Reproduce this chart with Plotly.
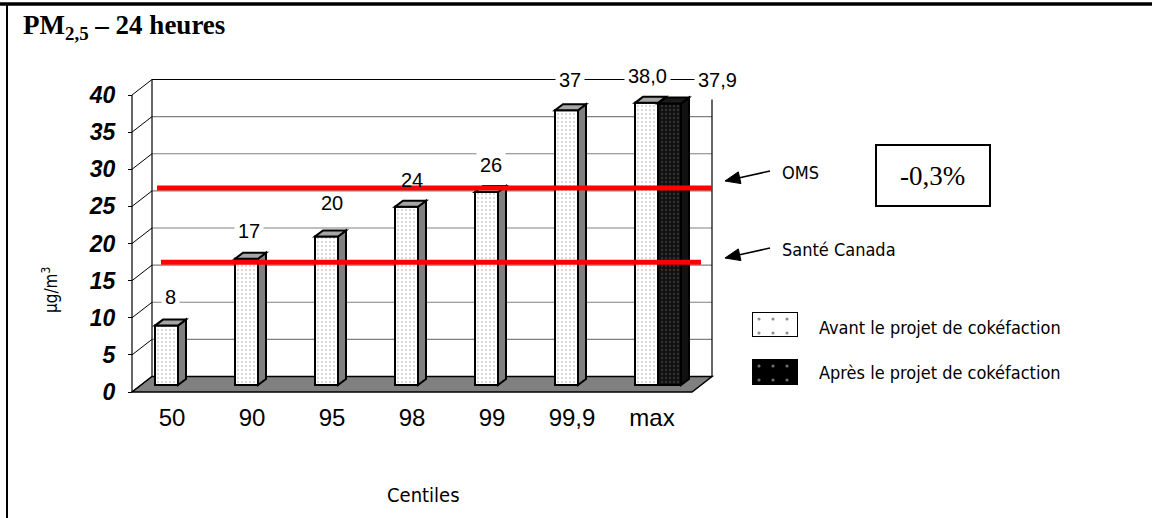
import plotly.graph_objects as go

# ---------------- data ----------------
categories = ["50", "90", "95", "98", "99", "99,9", "max"]
avant = [8, 17, 20, 24, 26, 37, 38.0]
apres = [None, None, None, None, None, None, 37.9]
avant_labels = ["8", "17", "20", "24", "26", "37", "38,0"]
apres_labels = ["", "", "", "", "", "", "37,9"]
threshold_names = ["OMS", "Santé Canada"]
threshold_values = [25, 15]
y_ticks = [0, 5, 10, 15, 20, 25, 30, 35, 40]
variation_text = "-0,3%"
legend_names = ["Avant le projet de cokéfaction", "Après le projet de cokéfaction"]

# ---------------- geometry / style ----------------
W, H = 1152, 518
X0PX, CATPX = 132.0, 80.0          # pixel of category -0.5, pixels per category
Y0PX, UNITPX = 392.0, 297.0 / 40   # pixel of value 0 (front), pixels per unit
XR = [-0.5 - X0PX / CATPX, -0.5 + (W - X0PX) / CATPX]
YR = [-(H - Y0PX) / UNITPX, Y0PX / UNITPX]
DX, DY = 20 / CATPX, 15.5 / UNITPX           # depth of the 3-D box
BAR_BASE = 7 / UNITPX
BAR_OFF, BAR_W = -17 / CATPX, 23 / CATPX
SDX, SDY = 8 / CATPX, 6 / UNITPX              # bar depth
RED_LIFT = DY + 0.4
RED_SPAN = [(-0.1875, 6.75), (-0.1375, 6.6125)]
RIGHT_EDGE_TOP = 37.3
ARROWS = [((770, 171), (725, 181)), ((770, 248), (725, 258))]   # (tail, head) in px
# label positions (relative x offset from category, y in value units) and white background flag
LABEL_POS = [(-0.025, 12.8), (-0.035, 21.7), (0.0, 25.5), (0.0, 28.6), (-0.01, 30.6),
             (-0.025, 42.0), (-0.0625, 42.6)]
LABEL_BG = [True, True, False, False, True, True, True]
LABEL2_POS = [None] * 6 + [(0.8125, 42.0)]

SANS = "Liberation Sans, Arial, sans-serif"
COND = "Liberation Sans Narrow, DejaVu Sans Condensed, Roboto Condensed, Arial Narrow, Lato, sans-serif"
SERIF = "Liberation Serif, Times New Roman, serif"


def px(xp):
    return xp / W


def py(yp):
    return 1 - yp / H


def poly(points):
    return "M " + " L ".join(f"{a:.4f},{b:.4f}" for a, b in points) + " Z"


fig = go.Figure()

fig.add_trace(go.Bar(
    x=list(range(len(categories))), y=avant, base=BAR_BASE, width=BAR_W, offset=BAR_OFF,
    name=legend_names[0], showlegend=False,
    marker=dict(color="white", line=dict(color="black", width=2),
                pattern=dict(shape=".", size=4, solidity=0.22, fgcolor="#a0a0a0", bgcolor="white")),
    hoverinfo="skip"))
fig.add_trace(go.Bar(
    x=list(range(len(categories))), y=apres, base=BAR_BASE, width=BAR_W, offset=BAR_OFF + BAR_W,
    name=legend_names[1], showlegend=False,
    marker=dict(color="black", line=dict(color="black", width=2),
                pattern=dict(shape=".", size=4, solidity=0.25, fgcolor="#555", bgcolor="#111")),
    hoverinfo="skip"))

shapes = []
xl, xr = -0.5, len(categories) - 0.5
# floor
shapes.append(dict(type="path", xref="x", yref="y", layer="below",
                   path=poly([(xl, 0), (xr, 0), (xr + DX, DY), (xl + DX, DY)]),
                   fillcolor="#808080", line=dict(color="black", width=1.5)))
# back wall gridlines
for v in y_ticks[1:]:
    shapes.append(dict(type="line", xref="x", yref="y", layer="below",
                       x0=xl + DX, x1=xr + DX, y0=v + DY, y1=v + DY,
                       line=dict(color="black" if v == y_ticks[-1] else "#808080", width=1.2)))
# side wall diagonals
for v in y_ticks:
    shapes.append(dict(type="line", xref="x", yref="y", layer="below",
                       x0=xl, x1=xl + DX, y0=v, y1=v + DY, line=dict(color="black", width=1)))
# wall vertical edges
for xx, y0, top in [(xl, 0, y_ticks[-1]), (xl + DX, DY, y_ticks[-1] + DY), (xr + DX, DY, RIGHT_EDGE_TOP + DY)]:
    shapes.append(dict(type="line", xref="x", yref="y", layer="below",
                       x0=xx, x1=xx, y0=y0, y1=top, line=dict(color="black", width=1.2)))


def bar_faces(i, v, off, side_col, top_col, side=True):
    x0 = i + off
    x1 = x0 + BAR_W
    t = BAR_BASE + v
    out = []
    if side:
        out.append(dict(type="path", xref="x", yref="y", layer="above",
                        path=poly([(x1, BAR_BASE), (x1, t), (x1 + SDX, t + SDY), (x1 + SDX, BAR_BASE + SDY)]),
                        fillcolor=side_col, line=dict(color="black", width=2)))
    out.append(dict(type="path", xref="x", yref="y", layer="above",
                    path=poly([(x0, t), (x1, t), (x1 + SDX, t + SDY), (x0 + SDX, t + SDY)]),
                    fillcolor=top_col, line=dict(color="black", width=2)))
    return out


for i, v in enumerate(avant):
    shapes += bar_faces(i, v, BAR_OFF, "#808080", "#a6a6a6", side=apres[i] is None)
for i, v in enumerate(apres):
    if v is not None:
        shapes += bar_faces(i, v, BAR_OFF + BAR_W, "#111", "#1a1a1a")

# threshold red lines
for val, (a, b) in zip(threshold_values, RED_SPAN):
    shapes.append(dict(type="line", xref="x", yref="y", layer="above",
                       x0=a, x1=b, y0=val + RED_LIFT, y1=val + RED_LIFT,
                       line=dict(color="#ff0000", width=5)))

# arrows (line + filled head)
for (tx, ty), (hx, hy) in ARROWS:
    vx, vy = hx - tx, hy - ty
    ln = (vx * vx + vy * vy) ** 0.5
    ux, uy = vx / ln, vy / ln
    hl, hw = 15, 6
    bx, by = hx - hl * ux, hy - hl * uy
    shapes.append(dict(type="line", xref="paper", yref="paper", x0=px(tx), y0=py(ty), x1=px(bx), y1=py(by),
                       line=dict(color="black", width=1.6)))
    pts = [(hx, hy), (bx - hw * uy, by + hw * ux), (bx + hw * uy, by - hw * ux)]
    shapes.append(dict(type="path", xref="paper", yref="paper",
                       path=poly([(px(a), py(b)) for a, b in pts]),
                       fillcolor="black", line=dict(color="black", width=1)))

# frame of the page
shapes.append(dict(type="line", xref="paper", yref="paper", x0=0, x1=1, y0=py(4), y1=py(4),
                   line=dict(color="black", width=3.5)))
shapes.append(dict(type="line", xref="paper", yref="paper", x0=px(7), x1=px(7), y0=py(4), y1=0,
                   line=dict(color="black", width=2)))
# variation box
shapes.append(dict(type="rect", xref="paper", yref="paper", x0=px(876), x1=px(990), y0=py(206), y1=py(145),
                   line=dict(color="black", width=2), fillcolor="white"))

annotations = []


def label(x, y, text, bg):
    return dict(x=x, y=y, xref="x", yref="y", text=text, showarrow=False,
                xanchor="center", yanchor="middle",
                font=dict(family=SANS, size=20, color="black"),
                bgcolor="white" if bg else "rgba(0,0,0,0)", borderpad=3)


for i, (lab, pos, bg) in enumerate(zip(avant_labels, LABEL_POS, LABEL_BG)):
    annotations.append(label(i + pos[0], pos[1], lab, bg))
for i, (lab, pos) in enumerate(zip(apres_labels, LABEL2_POS)):
    if pos is not None and lab:
        annotations.append(label(i + pos[0], pos[1], lab, True))


def text_px(x, y, text, font, xanchor="center", angle=0):
    return dict(x=px(x), y=py(y), xref="paper", yref="paper", text=text, showarrow=False,
                xanchor=xanchor, yanchor="middle", textangle=angle, font=font)


# title
annotations.append(text_px(21, 27, "<b>PM<sub>2,5</sub> – 24 heures</b>",
                           dict(family=SERIF, size=27, color="black"), xanchor="left"))
# axis titles
annotations.append(text_px(423, 495, "Centiles", dict(family=COND, size=20, color="black")))
annotations.append(text_px(50, 290, "µg/m<sup>3</sup>", dict(family=COND, size=17, color="black"), angle=-90))
# threshold names
for name, ((tx, ty), _) in zip(threshold_names, ARROWS):
    annotations.append(text_px(780, ty + 1, name, dict(family=COND, size=18, color="black"), xanchor="left"))
# variation text
annotations.append(text_px(932, 176, variation_text, dict(family=SERIF, size=27, color="black")))
# legend texts
for name, yc in zip(legend_names, [327, 372]):
    annotations.append(text_px(817, yc, name, dict(family=COND, size=18, color="black"), xanchor="left"))

# legend swatches (small bars on their own axes)
for k, (yb, yt, bg, fg) in enumerate([(337, 312, "white", "#222"), (385, 359, "black", "#ddd")]):
    ax_id = 3 + k
    fig.add_trace(go.Bar(x=[0], y=[1], width=1, xaxis=f"x{ax_id}", yaxis=f"y{ax_id}",
                         showlegend=False, hoverinfo="skip", cliponaxis=False,
                         marker=dict(color=bg, line=dict(color="black", width=2),
                                     pattern=dict(shape=".", size=14, solidity=0.04, fgcolor=fg, bgcolor=bg))))
    fig.layout[f"xaxis{ax_id}"] = dict(domain=[px(752), px(798)], range=[-0.5, 0.5], visible=False,
                                        fixedrange=True, anchor=f"y{ax_id}")
    fig.layout[f"yaxis{ax_id}"] = dict(domain=[py(yb), py(yt)], range=[0, 1], visible=False,
                                        fixedrange=True, anchor=f"x{ax_id}")

fig.update_layout(
    width=W, height=H, margin=dict(l=0, r=0, t=0, b=0),
    paper_bgcolor="white", plot_bgcolor="white",
    barmode="overlay", bargap=0,
    shapes=shapes, annotations=annotations,
    xaxis=dict(domain=[0, 1], range=XR, anchor="free", position=py(Y0PX),
               tickvals=list(range(len(categories))), ticktext=categories, ticks="",
               showgrid=False, zeroline=False, showline=False,
               tickfont=dict(family=SANS, size=24, color="black"), ticklabelstandoff=9, fixedrange=True),
    xaxis2=dict(overlaying="x", range=XR, anchor="free", position=py(Y0PX), side="bottom",
                tickvals=[i - 0.5 for i in range(len(categories) + 1)], ticks="outside", ticklen=6,
                tickcolor="black", tickwidth=1, showticklabels=False, showgrid=False, zeroline=False,
                showline=False, fixedrange=True),
    yaxis=dict(domain=[0, 1], range=YR, anchor="free", position=px(X0PX),
               tickvals=y_ticks, ticktext=[str(t) for t in y_ticks], ticks="outside", ticklen=4,
               tickcolor="black", showgrid=False, zeroline=False, showline=False,
               tickfont=dict(family=SANS, size=23, color="black", weight="bold", style="italic"),
               ticklabelstandoff=8, fixedrange=True),
    showlegend=False,
)

fig.write_html("out.html", config={"displayModeBar": False, "staticPlot": True},
               post_script="document.body.style.margin='0px';document.body.style.overflow='hidden';")
